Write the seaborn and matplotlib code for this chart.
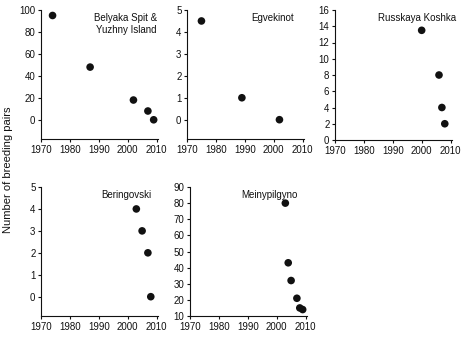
import matplotlib
matplotlib.use("Agg")
import matplotlib.pyplot as plt
import seaborn as sns
import pandas as pd

sns.set_style("ticks")
plt.rcParams['font.family'] = ['Liberation Sans', 'DejaVu Sans']

# Data
belyaka_years = [1974, 1987, 2002, 2007, 2009]
belyaka_pairs = [95, 48, 18, 8, 0]
egvekinot_years = [1975, 1989, 2002]
egvekinot_pairs = [4.5, 1, 0]
koshka_years = [2000, 2006, 2007, 2008]
koshka_pairs = [13.5, 8, 4, 2]
beringovski_years = [2003, 2005, 2007, 2008]
beringovski_pairs = [4, 3, 2, 0]
meiny_years = [2003, 2004, 2005, 2007, 2008, 2009]
meiny_pairs = [80, 43, 32, 21, 15, 14]

x_ticks = [1970, 1980, 1990, 2000, 2010]

panels = [
    dict(name="Belyaka Spit &\nYuzhny Island", years=belyaka_years, pairs=belyaka_pairs,
         rect=[41/469, 1-139/340, 117/469, 129/340], ylim=(-17.5, 100), yticks=[0, 20, 40, 60, 80, 100],
         tx=0.99, ty=0.98, ha="right"),
    dict(name="Egvekinot", years=egvekinot_years, pairs=egvekinot_pairs,
         rect=[187/469, 1-139/340, 117/469, 129/340], ylim=(-0.88, 5), yticks=[0, 1, 2, 3, 4, 5],
         tx=0.73, ty=0.98, ha="center"),
    dict(name="Russkaya Koshka", years=koshka_years, pairs=koshka_pairs,
         rect=[335/469, 1-140/340, 117/469, 130/340], ylim=(0, 16), yticks=list(range(0, 17, 2)),
         tx=0.70, ty=0.98, ha="center"),
    dict(name="Beringovski", years=beringovski_years, pairs=beringovski_pairs,
         rect=[41/469, 1-316/340, 117/469, 129/340], ylim=(-0.88, 5), yticks=[0, 1, 2, 3, 4, 5],
         tx=0.73, ty=0.98, ha="center"),
    dict(name="Meinypilgyno", years=meiny_years, pairs=meiny_pairs,
         rect=[190/469, 1-316/340, 117/469, 129/340], ylim=(10, 90), yticks=list(range(10, 91, 10)),
         tx=0.68, ty=0.98, ha="center"),
]

fig = plt.figure(figsize=(4.69, 3.40), dpi=100)

for p in panels:
    ax = fig.add_axes(p["rect"])
    df = pd.DataFrame({"year": p["years"], "pairs": p["pairs"]})
    sns.scatterplot(data=df, x="year", y="pairs", ax=ax, color="#111111",
                    s=30, edgecolor="none", zorder=3, clip_on=False)
    ax.set_xlim(1970, 2010.5)
    ax.set_ylim(*p["ylim"])
    ax.set_xticks(x_ticks)
    ax.set_yticks(p["yticks"])
    ax.set_xlabel("")
    ax.set_ylabel("")
    ax.tick_params(axis="both", labelsize=7, length=2, width=0.8, pad=2, colors="#111111")
    for s in ["top", "right"]:
        ax.spines[s].set_visible(False)
    for s in ["left", "bottom"]:
        ax.spines[s].set_linewidth(0.8)
        ax.spines[s].set_color("#111111")
    ax.text(p["tx"], p["ty"], p["name"], transform=ax.transAxes, ha=p["ha"], va="top",
            fontsize=7, color="#111111", linespacing=1.3)

fig.text(0.018, 0.5, "Number of breeding pairs", rotation=90, ha="center", va="center",
         fontsize=8, color="#111111")

fig.savefig("out.png", dpi=100)
